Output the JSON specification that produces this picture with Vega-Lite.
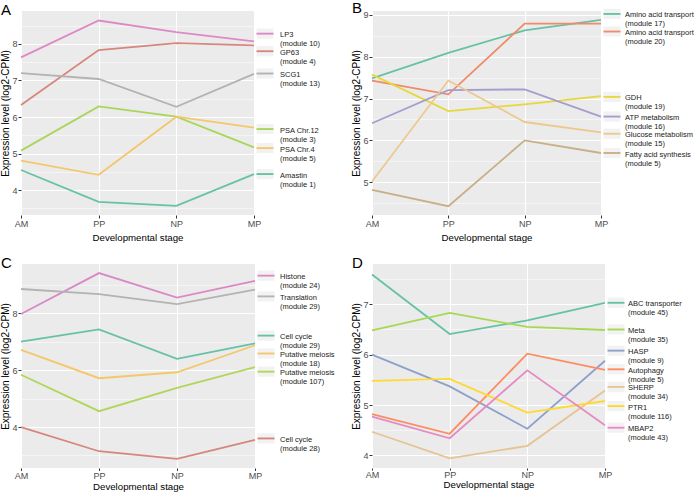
{
  "$schema": "https://vega.github.io/schema/vega-lite/v6.json",
  "padding": {"left": 0, "top": 0, "right": 0, "bottom": 0},
  "background": "white",
  "bounds": "flush",
  "columns": 2,
  "spacing": {"row": 49, "column": 117},
  "config": {
    "font": "Liberation Sans",
    "view": {"fill": "#EBEBEB", "stroke": null},
    "axis": {"domain": false, "grid": true, "gridColor": "#FFFFFF", "gridWidth": 1, "labelColor": "#4D4D4D", "labelFontSize": 9, "tickColor": "#333333", "tickSize": 3, "labelPadding": 1.5, "titleFontWeight": "normal", "titleColor": "#000000", "titleFontSize": 9.7},
    "axisX": {"labelAngle": 0, "titlePadding": 4},
    "axisY": {"titlePadding": 1, "labelPadding": 1, "titleFontSize": 10},
    "title": {"fontSize": 15, "fontWeight": "normal", "anchor": "start", "color": "#000000", "offset": -7}
  },
  "datasets": {
    "A": [
      {"s": "LP3", "stage": "AM", "value": 7.63}, {"s": "LP3", "stage": "PP", "value": 8.64}, {"s": "LP3", "stage": "NP", "value": 8.32}, {"s": "LP3", "stage": "MP", "value": 8.07},
      {"s": "GP63", "stage": "AM", "value": 6.33}, {"s": "GP63", "stage": "PP", "value": 7.83}, {"s": "GP63", "stage": "NP", "value": 8.02}, {"s": "GP63", "stage": "MP", "value": 7.96},
      {"s": "SCG1", "stage": "AM", "value": 7.2}, {"s": "SCG1", "stage": "PP", "value": 7.04}, {"s": "SCG1", "stage": "NP", "value": 6.28}, {"s": "SCG1", "stage": "MP", "value": 7.18},
      {"s": "PSA12", "stage": "AM", "value": 5.08}, {"s": "PSA12", "stage": "PP", "value": 6.29}, {"s": "PSA12", "stage": "NP", "value": 6.01}, {"s": "PSA12", "stage": "MP", "value": 5.17},
      {"s": "PSA4", "stage": "AM", "value": 4.81}, {"s": "PSA4", "stage": "PP", "value": 4.42}, {"s": "PSA4", "stage": "NP", "value": 6.01}, {"s": "PSA4", "stage": "MP", "value": 5.71},
      {"s": "Amastin", "stage": "AM", "value": 4.55}, {"s": "Amastin", "stage": "PP", "value": 3.68}, {"s": "Amastin", "stage": "NP", "value": 3.57}, {"s": "Amastin", "stage": "MP", "value": 4.44}
    ],
    "A_lab": [
      {"s": "LP3", "stage": "MP", "value": 8.28, "label": "LP3\n(module 10)"},
      {"s": "GP63", "stage": "MP", "value": 7.8, "label": "GP63\n(module 4)"},
      {"s": "SCG1", "stage": "MP", "value": 7.19, "label": "SCG1\n(module 13)"},
      {"s": "PSA12", "stage": "MP", "value": 5.67, "label": "PSA Chr.12\n(module 3)"},
      {"s": "PSA4", "stage": "MP", "value": 5.15, "label": "PSA Chr.4\n(module 5)"},
      {"s": "Amastin", "stage": "MP", "value": 4.44, "label": "Amastin\n(module 1)"}
    ],
    "B": [
      {"s": "AA17", "stage": "AM", "value": 7.48}, {"s": "AA17", "stage": "PP", "value": 8.09}, {"s": "AA17", "stage": "NP", "value": 8.63}, {"s": "AA17", "stage": "MP", "value": 8.88},
      {"s": "AA20", "stage": "AM", "value": 7.43}, {"s": "AA20", "stage": "PP", "value": 7.1}, {"s": "AA20", "stage": "NP", "value": 8.79}, {"s": "AA20", "stage": "MP", "value": 8.79},
      {"s": "GDH", "stage": "AM", "value": 7.57}, {"s": "GDH", "stage": "PP", "value": 6.7}, {"s": "GDH", "stage": "NP", "value": 6.86}, {"s": "GDH", "stage": "MP", "value": 7.06},
      {"s": "ATP", "stage": "AM", "value": 6.41}, {"s": "ATP", "stage": "PP", "value": 7.2}, {"s": "ATP", "stage": "NP", "value": 7.22}, {"s": "ATP", "stage": "MP", "value": 6.57},
      {"s": "Glucose", "stage": "AM", "value": 5.02}, {"s": "Glucose", "stage": "PP", "value": 7.43}, {"s": "Glucose", "stage": "NP", "value": 6.44}, {"s": "Glucose", "stage": "MP", "value": 6.19},
      {"s": "Fatty", "stage": "AM", "value": 4.82}, {"s": "Fatty", "stage": "PP", "value": 4.43}, {"s": "Fatty", "stage": "NP", "value": 6.0}, {"s": "Fatty", "stage": "MP", "value": 5.7}
    ],
    "B_lab": [
      {"s": "AA17", "stage": "MP", "value": 9.02, "label": "Amino acid transport\n(module 17)"},
      {"s": "AA20", "stage": "MP", "value": 8.6, "label": "Amino acid transport\n(module 20)"},
      {"s": "GDH", "stage": "MP", "value": 7.04, "label": "GDH\n(module 19)"},
      {"s": "ATP", "stage": "MP", "value": 6.57, "label": "ATP metabolism\n(module 16)"},
      {"s": "Glucose", "stage": "MP", "value": 6.16, "label": "Glucose metabolism\n(module 15)"},
      {"s": "Fatty", "stage": "MP", "value": 5.7, "label": "Fatty acid synthesis\n (module 5)"}
    ],
    "C": [
      {"s": "Histone", "stage": "AM", "value": 7.98}, {"s": "Histone", "stage": "PP", "value": 9.42}, {"s": "Histone", "stage": "NP", "value": 8.56}, {"s": "Histone", "stage": "MP", "value": 9.15},
      {"s": "Translation", "stage": "AM", "value": 8.86}, {"s": "Translation", "stage": "PP", "value": 8.68}, {"s": "Translation", "stage": "NP", "value": 8.33}, {"s": "Translation", "stage": "MP", "value": 8.84},
      {"s": "CC29", "stage": "AM", "value": 7.01}, {"s": "CC29", "stage": "PP", "value": 7.44}, {"s": "CC29", "stage": "NP", "value": 6.4}, {"s": "CC29", "stage": "MP", "value": 6.95},
      {"s": "M18", "stage": "AM", "value": 6.72}, {"s": "M18", "stage": "PP", "value": 5.72}, {"s": "M18", "stage": "NP", "value": 5.93}, {"s": "M18", "stage": "MP", "value": 6.88},
      {"s": "M107", "stage": "AM", "value": 5.84}, {"s": "M107", "stage": "PP", "value": 4.56}, {"s": "M107", "stage": "NP", "value": 5.38}, {"s": "M107", "stage": "MP", "value": 6.11},
      {"s": "CC28", "stage": "AM", "value": 4.0}, {"s": "CC28", "stage": "PP", "value": 3.15}, {"s": "CC28", "stage": "NP", "value": 2.88}, {"s": "CC28", "stage": "MP", "value": 3.55}
    ],
    "C_lab": [
      {"s": "Histone", "stage": "MP", "value": 9.33, "label": "Histone\n(module 24)"},
      {"s": "Translation", "stage": "MP", "value": 8.6, "label": "Translation\n(module 29)"},
      {"s": "CC29", "stage": "MP", "value": 7.22, "label": "Cell cycle\n(module 29)"},
      {"s": "M18", "stage": "MP", "value": 6.59, "label": "Putative meiosis\n(module 18)"},
      {"s": "M107", "stage": "MP", "value": 5.95, "label": "Putative meiosis\n(module 107)"},
      {"s": "CC28", "stage": "MP", "value": 3.6, "label": "Cell cycle\n(module 28)"}
    ],
    "D": [
      {"s": "ABC", "stage": "AM", "value": 7.59}, {"s": "ABC", "stage": "PP", "value": 6.41}, {"s": "ABC", "stage": "NP", "value": 6.68}, {"s": "ABC", "stage": "MP", "value": 7.03},
      {"s": "Meta", "stage": "AM", "value": 6.48}, {"s": "Meta", "stage": "PP", "value": 6.83}, {"s": "Meta", "stage": "NP", "value": 6.55}, {"s": "Meta", "stage": "MP", "value": 6.49},
      {"s": "HASP", "stage": "AM", "value": 6.0}, {"s": "HASP", "stage": "PP", "value": 5.37}, {"s": "HASP", "stage": "NP", "value": 4.53}, {"s": "HASP", "stage": "MP", "value": 5.88},
      {"s": "Autophagy", "stage": "AM", "value": 4.82}, {"s": "Autophagy", "stage": "PP", "value": 4.43}, {"s": "Autophagy", "stage": "NP", "value": 6.02}, {"s": "Autophagy", "stage": "MP", "value": 5.7},
      {"s": "SHERP", "stage": "AM", "value": 4.47}, {"s": "SHERP", "stage": "PP", "value": 3.94}, {"s": "SHERP", "stage": "NP", "value": 4.19}, {"s": "SHERP", "stage": "MP", "value": 5.29},
      {"s": "PTR1", "stage": "AM", "value": 5.48}, {"s": "PTR1", "stage": "PP", "value": 5.52}, {"s": "PTR1", "stage": "NP", "value": 4.85}, {"s": "PTR1", "stage": "MP", "value": 5.08},
      {"s": "MBAP2", "stage": "AM", "value": 4.77}, {"s": "MBAP2", "stage": "PP", "value": 4.34}, {"s": "MBAP2", "stage": "NP", "value": 5.69}, {"s": "MBAP2", "stage": "MP", "value": 4.6}
    ],
    "D_lab": [
      {"s": "ABC", "stage": "MP", "value": 7.03, "label": "ABC transporter\n(module 45)"},
      {"s": "Meta", "stage": "MP", "value": 6.5, "label": "Meta\n(module 35)"},
      {"s": "HASP", "stage": "MP", "value": 6.08, "label": "HASP\n(module 9)"},
      {"s": "Autophagy", "stage": "MP", "value": 5.71, "label": "Autophagy\n(module 5)"},
      {"s": "SHERP", "stage": "MP", "value": 5.36, "label": "SHERP\n(module 34)"},
      {"s": "PTR1", "stage": "MP", "value": 4.98, "label": "PTR1\n(module 116)"},
      {"s": "MBAP2", "stage": "MP", "value": 4.55, "label": "MBAP2\n(module 43)"}
    ]
  },
  "resolve": {"scale": {"color": "independent", "x": "independent", "y": "independent"}},
  "concat": [
    {
      "width": 233, "height": 204,
      "title": {"text": "A"},
      "encoding": {
        "x": {"field": "stage", "type": "ordinal", "scale": {"type": "point", "padding": 0, "domain": ["AM", "PP", "NP", "MP"]}, "axis": {"title": "Developmental stage"}},
        "y": {"field": "value", "type": "quantitative", "scale": {"domain": [3.32, 8.9], "nice": false, "zero": false},
              "axis": {"title": "Expression level (log2-CPM)", "values": [3.5, 4, 4.5, 5, 5.5, 6, 6.5, 7, 7.5, 8, 8.5], "labelExpr": "datum.value % 1 === 0 ? format(datum.value, '.0f') : ''", "gridWidth": {"condition": {"test": "datum.value % 1 === 0", "value": 1}, "value": 0.5}, "tickOpacity": {"condition": {"test": "datum.value % 1 === 0", "value": 1}, "value": 0}}}
      },
      "layer": [
        {"data": {"name": "A"}, "mark": {"type": "line", "strokeWidth": 1.8},
         "encoding": {"color": {"field": "s", "type": "nominal", "legend": null, "scale": {"domain": ["LP3", "GP63", "SCG1", "PSA12", "PSA4", "Amastin"], "range": ["#DE89C6", "#D5877C", "#B3B3B3", "#A9D55A", "#F4C76C", "#66C2A5"]}}}},
        {"data": {"name": "A_lab"}, "mark": {"type": "point", "shape": "M-1,-0.6L1,-0.6L1,0.6L-1,0.6Z", "filled": true, "size": 289, "color": "#F2F2F2", "opacity": 1, "xOffset": 11}, "encoding": {}},
        {"data": {"name": "A_lab"}, "mark": {"type": "point", "shape": "M-1,-0.11L1,-0.11L1,0.11L-1,0.11Z", "filled": true, "size": 289, "opacity": 1, "xOffset": 11},
         "encoding": {"color": {"field": "s", "type": "nominal", "legend": null}}},
        {"data": {"name": "A_lab"}, "mark": {"type": "text", "align": "left", "baseline": "middle", "dx": 26, "dy": 1.5, "fontSize": 7.5, "lineHeight": 9, "lineBreak": "\n", "color": "#1A1A1A"},
         "encoding": {"text": {"field": "label"}}}
      ]
    },
    {
      "width": 229, "height": 204,
      "title": {"text": "B"},
      "encoding": {
        "x": {"field": "stage", "type": "ordinal", "scale": {"type": "point", "padding": 0, "domain": ["AM", "PP", "NP", "MP"]}, "axis": {"title": "Developmental stage"}},
        "y": {"field": "value", "type": "quantitative", "scale": {"domain": [4.22, 9.09], "nice": false, "zero": false},
              "axis": {"title": "Expression level (log2-CPM)", "values": [4.5, 5, 5.5, 6, 6.5, 7, 7.5, 8, 8.5, 9], "labelExpr": "datum.value % 1 === 0 ? format(datum.value, '.0f') : ''", "gridWidth": {"condition": {"test": "datum.value % 1 === 0", "value": 1}, "value": 0.5}, "tickOpacity": {"condition": {"test": "datum.value % 1 === 0", "value": 1}, "value": 0}}}
      },
      "layer": [
        {"data": {"name": "B"}, "mark": {"type": "line", "strokeWidth": 1.8},
         "encoding": {"color": {"field": "s", "type": "nominal", "legend": null, "scale": {"domain": ["AA17", "AA20", "GDH", "ATP", "Glucose", "Fatty"], "range": ["#66C2A5", "#EE8B6A", "#E6D83A", "#A59DCF", "#EDC88E", "#C9AE87"]}}}},
        {"data": {"name": "B_lab"}, "mark": {"type": "point", "shape": "M-1,-0.6L1,-0.6L1,0.6L-1,0.6Z", "filled": true, "size": 289, "color": "#F2F2F2", "opacity": 1, "xOffset": 11}, "encoding": {}},
        {"data": {"name": "B_lab"}, "mark": {"type": "point", "shape": "M-1,-0.11L1,-0.11L1,0.11L-1,0.11Z", "filled": true, "size": 289, "opacity": 1, "xOffset": 11},
         "encoding": {"color": {"field": "s", "type": "nominal", "legend": null}}},
        {"data": {"name": "B_lab"}, "mark": {"type": "text", "align": "left", "baseline": "middle", "dx": 24, "dy": 1.5, "fontSize": 7.5, "lineHeight": 9, "lineBreak": "\n", "color": "#1A1A1A"},
         "encoding": {"text": {"field": "label"}}}
      ]
    },
    {
      "width": 234, "height": 204,
      "title": {"text": "C"},
      "encoding": {
        "x": {"field": "stage", "type": "ordinal", "scale": {"type": "point", "padding": 0, "domain": ["AM", "PP", "NP", "MP"]}, "axis": {"title": "Developmental stage", "titlePadding": 1, "labelPadding": 1, "tickSize": 2.5}},
        "y": {"field": "value", "type": "quantitative", "scale": {"domain": [2.56, 9.74], "nice": false, "zero": false},
              "axis": {"title": "Expression level (log2-CPM)", "values": [3, 4, 5, 6, 7, 8, 9], "labelExpr": "datum.value % 2 === 0 ? format(datum.value, '.0f') : ''", "gridWidth": {"condition": {"test": "datum.value % 2 === 0", "value": 1}, "value": 0.5}, "tickOpacity": {"condition": {"test": "datum.value % 2 === 0", "value": 1}, "value": 0}}}
      },
      "layer": [
        {"data": {"name": "C"}, "mark": {"type": "line", "strokeWidth": 1.8},
         "encoding": {"color": {"field": "s", "type": "nominal", "legend": null, "scale": {"domain": ["Histone", "Translation", "CC29", "M18", "M107", "CC28"], "range": ["#DA89C7", "#B3B3B3", "#66C2A5", "#F4C76C", "#B1D65A", "#D5877C"]}}}},
        {"data": {"name": "C_lab"}, "mark": {"type": "point", "shape": "M-1,-0.6L1,-0.6L1,0.6L-1,0.6Z", "filled": true, "size": 289, "color": "#F2F2F2", "opacity": 1, "xOffset": 11}, "encoding": {}},
        {"data": {"name": "C_lab"}, "mark": {"type": "point", "shape": "M-1,-0.11L1,-0.11L1,0.11L-1,0.11Z", "filled": true, "size": 289, "opacity": 1, "xOffset": 11},
         "encoding": {"color": {"field": "s", "type": "nominal", "legend": null}}},
        {"data": {"name": "C_lab"}, "mark": {"type": "text", "align": "left", "baseline": "middle", "dx": 25, "dy": 1.5, "fontSize": 7.5, "lineHeight": 9, "lineBreak": "\n", "color": "#1A1A1A"},
         "encoding": {"text": {"field": "label"}}}
      ]
    },
    {
      "width": 233, "height": 204,
      "title": {"text": "D"},
      "encoding": {
        "x": {"field": "stage", "type": "ordinal", "scale": {"type": "point", "padding": 0, "domain": ["AM", "PP", "NP", "MP"]}, "axis": {"title": "Developmental stage", "titlePadding": 0, "labelPadding": 0.5, "tickSize": 2}},
        "y": {"field": "value", "type": "quantitative", "scale": {"domain": [3.75, 7.8], "nice": false, "zero": false},
              "axis": {"title": "Expression level (log2-CPM)", "values": [4, 4.5, 5, 5.5, 6, 6.5, 7, 7.5], "labelExpr": "datum.value % 1 === 0 ? format(datum.value, '.0f') : ''", "gridWidth": {"condition": {"test": "datum.value % 1 === 0", "value": 1}, "value": 0.5}, "tickOpacity": {"condition": {"test": "datum.value % 1 === 0", "value": 1}, "value": 0}}}
      },
      "layer": [
        {"data": {"name": "D"}, "mark": {"type": "line", "strokeWidth": 1.8},
         "encoding": {"color": {"field": "s", "type": "nominal", "legend": null, "scale": {"domain": ["ABC", "Meta", "HASP", "Autophagy", "SHERP", "PTR1", "MBAP2"], "range": ["#66C2A5", "#A6D854", "#8DA0CB", "#FC8D62", "#E5C494", "#FFD92F", "#E78AC3"]}}}},
        {"data": {"name": "D_lab"}, "mark": {"type": "point", "shape": "M-1,-0.6L1,-0.6L1,0.6L-1,0.6Z", "filled": true, "size": 289, "color": "#F2F2F2", "opacity": 1, "xOffset": 11}, "encoding": {}},
        {"data": {"name": "D_lab"}, "mark": {"type": "point", "shape": "M-1,-0.11L1,-0.11L1,0.11L-1,0.11Z", "filled": true, "size": 289, "opacity": 1, "xOffset": 11},
         "encoding": {"color": {"field": "s", "type": "nominal", "legend": null}}},
        {"data": {"name": "D_lab"}, "mark": {"type": "text", "align": "left", "baseline": "middle", "dx": 23, "dy": 1.5, "fontSize": 7.5, "lineHeight": 9, "lineBreak": "\n", "color": "#1A1A1A"},
         "encoding": {"text": {"field": "label"}}}
      ]
    }
  ]
}
